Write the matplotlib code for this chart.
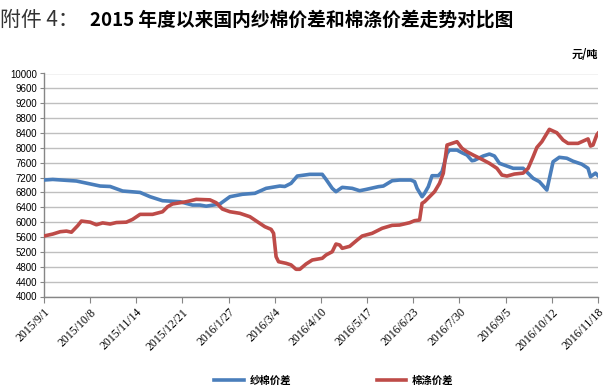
import matplotlib
matplotlib.use("Agg")
import matplotlib.pyplot as plt
from matplotlib.lines import Line2D
import pandas as pd

plt.rcParams['font.family'] = ['Noto Sans CJK SC', 'DejaVu Sans']

title_prefix = "附件 4："
title_main = "2015 年度以来国内纱棉价差和棉涤价差走势对比图"
unit_label = "元/吨"
series_names = ["纱棉价差", "棉涤价差"]

yarn_dates = ["2015-09-01", "2015-09-08", "2015-09-27", "2015-10-16", "2015-10-24", "2015-11-03",
              "2015-11-17", "2015-11-25", "2015-12-05", "2015-12-19", "2015-12-29", "2016-01-04",
              "2016-01-09", "2016-01-20", "2016-01-28", "2016-02-07", "2016-02-17", "2016-02-26",
              "2016-03-08", "2016-03-12", "2016-03-17", "2016-03-22", "2016-04-01", "2016-04-11",
              "2016-04-14", "2016-04-19", "2016-04-22", "2016-04-27", "2016-05-05", "2016-05-11",
              "2016-05-16", "2016-05-26", "2016-05-30", "2016-06-06", "2016-06-12", "2016-06-21",
              "2016-06-24", "2016-06-26", "2016-06-30", "2016-07-02", "2016-07-05", "2016-07-08",
              "2016-07-13", "2016-07-16", "2016-07-20", "2016-07-22", "2016-07-28", "2016-08-01",
              "2016-08-05", "2016-08-09", "2016-08-11", "2016-08-18", "2016-08-23", "2016-08-27",
              "2016-08-31", "2016-09-06", "2016-09-11", "2016-09-19", "2016-09-23", "2016-09-27",
              "2016-10-02", "2016-10-08", "2016-10-13", "2016-10-18", "2016-10-24", "2016-10-29",
              "2016-11-05", "2016-11-10", "2016-11-12", "2016-11-16", "2016-11-18"]
yarn_values = [7134, 7150, 7107, 6972, 6960, 6838,
               6800, 6685, 6577, 6550, 6460, 6460,
               6430, 6490, 6685, 6750, 6776, 6910,
               6972, 6960, 7045, 7241, 7287, 7287,
               7153, 6910, 6820, 6937, 6910, 6846,
               6880, 6955, 6972, 7115, 7134, 7134,
               7090, 6910, 6685, 6776, 6955, 7250,
               7250, 7357, 7852, 7941, 7940, 7868,
               7806, 7653, 7665, 7780, 7833, 7780,
               7583, 7510, 7449, 7449, 7314, 7180,
               7090, 6865, 7626, 7745, 7720, 7640,
               7560, 7450, 7223, 7320, 7250]

poly_dates = ["2015-09-01", "2015-09-08", "2015-09-14", "2015-09-19", "2015-09-23", "2015-09-28",
              "2015-10-01", "2015-10-08", "2015-10-13", "2015-10-18", "2015-10-24", "2015-10-29",
              "2015-11-06", "2015-11-11", "2015-11-17", "2015-11-27", "2015-12-05", "2015-12-09",
              "2015-12-13", "2015-12-24", "2016-01-01", "2016-01-12", "2016-01-17", "2016-01-22",
              "2016-01-28", "2016-02-05", "2016-02-13", "2016-02-19", "2016-02-25", "2016-03-01",
              "2016-03-03", "2016-03-05", "2016-03-07", "2016-03-13", "2016-03-17", "2016-03-21",
              "2016-03-24", "2016-03-29", "2016-04-03", "2016-04-11", "2016-04-14", "2016-04-19",
              "2016-04-22", "2016-04-25", "2016-04-27", "2016-05-03", "2016-05-09", "2016-05-13",
              "2016-05-21", "2016-05-29", "2016-06-06", "2016-06-12", "2016-06-20", "2016-06-24",
              "2016-06-28", "2016-06-30", "2016-07-02", "2016-07-06", "2016-07-10", "2016-07-14",
              "2016-07-17", "2016-07-20", "2016-07-24", "2016-07-28", "2016-08-01", "2016-08-05",
              "2016-08-10", "2016-08-17", "2016-08-23", "2016-08-29", "2016-09-02", "2016-09-06",
              "2016-09-12", "2016-09-19", "2016-09-23", "2016-09-27", "2016-09-30", "2016-10-04",
              "2016-10-10", "2016-10-16", "2016-10-21", "2016-10-25", "2016-11-02", "2016-11-08",
              "2016-11-10", "2016-11-12", "2016-11-14", "2016-11-17", "2016-11-18"]
poly_values = [5627, 5680, 5743, 5760, 5730, 5905,
               6030, 6000, 5930, 5980, 5950, 5990,
               6000, 6075, 6210, 6210, 6280, 6415,
               6490, 6550, 6614, 6600, 6523, 6353,
               6281, 6238, 6147, 6012, 5878, 5807,
               5700, 5071, 4936, 4893, 4850, 4732,
               4732, 4874, 4982, 5028, 5116, 5205,
               5412, 5385, 5296, 5350, 5520, 5627,
               5700, 5835, 5915, 5923, 5985, 6040,
               6058, 6507, 6550, 6685, 6820, 7045,
               7314, 8075, 8120, 8165, 7987, 7895,
               7806, 7690, 7583, 7449, 7268, 7240,
               7295, 7320, 7449, 7760, 8010, 8165,
               8497, 8406, 8210, 8120, 8120, 8210,
               8240, 8048, 8075, 8345, 8390]

tick_dates = ["2015-09-01", "2015-10-08", "2015-11-14", "2015-12-21", "2016-01-27", "2016-03-04",
              "2016-04-10", "2016-05-17", "2016-06-23", "2016-07-30", "2016-09-05", "2016-10-12",
              "2016-11-18"]
tick_labels = ["2015/9/1", "2015/10/8", "2015/11/14", "2015/12/21", "2016/1/27", "2016/3/4",
               "2016/4/10", "2016/5/17", "2016/6/23", "2016/7/30", "2016/9/5", "2016/10/12",
               "2016/11/18"]
y_ticks = list(range(4000, 10001, 400))

blue = "#4A7EBB"
red = "#BE4B48"

fig = plt.figure(figsize=(6.05, 3.91), dpi=100)
ax = fig.add_axes([44/605, 94.5/391, 554/605, 223/391])

ax.plot(pd.to_datetime(yarn_dates), yarn_values, color=blue, lw=2.6, solid_joinstyle='round', zorder=3)
ax.plot(pd.to_datetime(poly_dates), poly_values, color=red, lw=2.6, solid_joinstyle='round', zorder=4)

ax.set_xlim(pd.Timestamp(tick_dates[0]), pd.Timestamp(tick_dates[-1]))
ax.set_ylim(4000, 10000)
ax.set_yticks(y_ticks)
ax.set_yticklabels([str(v) for v in y_ticks], fontsize=7, family=['Liberation Sans'])
ax.set_xticks(pd.to_datetime(tick_dates))
ax.set_xticklabels(tick_labels, rotation=45, ha='right', rotation_mode='anchor',
                   fontsize=8.5, family=['Liberation Serif'])
ax.tick_params(axis='x', length=4, color='#868686', pad=3)
ax.tick_params(axis='y', length=3, color='#868686', pad=2)
ax.grid(axis='y', color='#BFBFBF', lw=1)
ax.set_axisbelow(True)
for s in ['top', 'right']:
    ax.spines[s].set_visible(False)
for s in ['left', 'bottom']:
    ax.spines[s].set_color('#868686')
    ax.spines[s].set_linewidth(1)

fig.text(0.0, 1 - 20/391, title_prefix, fontsize=15, color='#333333', weight='light', va='center', ha='left')
fig.text(90/605, 1 - 20/391, title_main, fontsize=13.5, weight='bold', va='center', ha='left')
fig.text(598/605, 1 - 55/391, unit_label, fontsize=8, weight='bold', ha='right', va='center')

# legend
handles = [Line2D([0], [0], color=blue, lw=2.6), Line2D([0], [0], color=red, lw=2.6)]
fig.legend(handles, series_names, loc='center', bbox_to_anchor=(334/605, 1 - 381/391),
           ncol=2, frameon=False, handlelength=2.8, columnspacing=8.2, handletextpad=0.6,
           prop={'weight': 'bold', 'size': 7.5})

fig.savefig("out.png", dpi=100)
